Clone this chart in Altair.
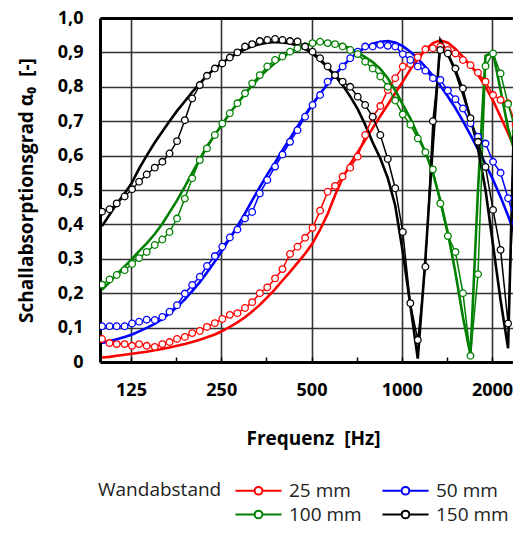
import altair as alt
import pandas as pd

# measured frequencies (1/12 octave), Hz
freq = [100, 106, 112, 119, 126, 133, 141, 150, 159, 168, 178, 189, 200, 212, 224, 238,
        252, 267, 283, 300, 317, 336, 356, 378, 400, 424, 449, 476, 504, 534, 566, 599,
        635, 673, 713, 755, 800, 848, 898, 951, 1008, 1068, 1131, 1199, 1270, 1345, 1425,
        1510, 1600, 1695, 1796, 1903, 2016, 2136, 2263, 2398]
freq_theory = freq + [2540]

series = ["25 mm", "50 mm", "100 mm", "150 mm"]
colors = ["#ff0000", "#0000ff", "#008000", "#000000"]

meas_25 = [0.067, 0.055, 0.052, 0.052, 0.047, 0.052, 0.047, 0.044, 0.052, 0.058, 0.067, 0.073,
           0.084, 0.090, 0.102, 0.113, 0.125, 0.137, 0.142, 0.157, 0.174, 0.200, 0.217, 0.243,
           0.270, 0.314, 0.335, 0.361, 0.390, 0.440, 0.495, 0.512, 0.539, 0.565, 0.597, 0.660,
           0.713, 0.744, 0.791, 0.825, 0.859, 0.866, 0.886, 0.909, 0.912, 0.917, 0.907, 0.897,
           0.878, 0.863, 0.841, 0.815, 0.776, 0.762, 0.752, 0.690]
meas_50 = [0.104, 0.104, 0.104, 0.104, 0.112, 0.117, 0.123, 0.122, 0.131, 0.146, 0.165, 0.199,
           0.224, 0.248, 0.279, 0.308, 0.335, 0.362, 0.385, 0.417, 0.436, 0.490, 0.529, 0.568,
           0.603, 0.640, 0.674, 0.713, 0.747, 0.776, 0.815, 0.834, 0.859, 0.883, 0.902, 0.917,
           0.917, 0.922, 0.919, 0.917, 0.895, 0.878, 0.859, 0.847, 0.825, 0.820, 0.789, 0.764,
           0.737, 0.694, 0.655, 0.635, 0.582, 0.550, 0.476, 0.405]
meas_100 = [0.225, 0.240, 0.253, 0.267, 0.285, 0.302, 0.320, 0.340, 0.356, 0.378, 0.417, 0.475,
            0.534, 0.587, 0.621, 0.660, 0.693, 0.723, 0.752, 0.781, 0.810, 0.834, 0.859, 0.878,
            0.888, 0.902, 0.912, 0.917, 0.927, 0.931, 0.927, 0.924, 0.917, 0.907, 0.895, 0.873,
            0.853, 0.830, 0.800, 0.760, 0.720, 0.690, 0.650, 0.610, 0.560, 0.461, 0.366, 0.320,
            0.200, 0.018, 0.255, 0.860, 0.897, 0.839, 0.750, 0.670]
meas_150 = [0.437, 0.444, 0.461, 0.481, 0.502, 0.524, 0.545, 0.565, 0.582, 0.606, 0.642, 0.703,
            0.766, 0.805, 0.832, 0.853, 0.868, 0.885, 0.900, 0.917, 0.924, 0.933, 0.936, 0.939,
            0.936, 0.933, 0.932, 0.917, 0.902, 0.883, 0.859, 0.834, 0.815, 0.800, 0.771, 0.747,
            0.713, 0.660, 0.590, 0.505, 0.378, 0.171, 0.064, 0.277, 0.700, 0.907, 0.897, 0.853,
            0.795, 0.709, 0.640, 0.567, 0.442, 0.326, 0.112, 0.650]

theo_25 = [0.013, 0.015, 0.018, 0.021, 0.024, 0.027, 0.030, 0.034, 0.038, 0.042, 0.047, 0.052,
           0.058, 0.065, 0.072, 0.080, 0.090, 0.102, 0.115, 0.130, 0.147, 0.166, 0.188, 0.212,
           0.237, 0.262, 0.288, 0.315, 0.345, 0.385, 0.430, 0.485, 0.535, 0.575, 0.610, 0.645,
           0.680, 0.715, 0.748, 0.782, 0.815, 0.850, 0.880, 0.907, 0.927, 0.935, 0.928, 0.910,
           0.887, 0.862, 0.835, 0.800, 0.760, 0.713, 0.665, 0.615, 0.560]
theo_50 = [0.055, 0.060, 0.066, 0.073, 0.080, 0.089, 0.099, 0.111, 0.125, 0.141, 0.160, 0.182,
           0.206, 0.232, 0.260, 0.292, 0.325, 0.360, 0.395, 0.432, 0.470, 0.508, 0.545, 0.580,
           0.615, 0.650, 0.685, 0.718, 0.750, 0.780, 0.808, 0.835, 0.860, 0.882, 0.900, 0.914,
           0.925, 0.931, 0.933, 0.929, 0.918, 0.902, 0.882, 0.858, 0.832, 0.803, 0.772, 0.738,
           0.700, 0.660, 0.618, 0.575, 0.530, 0.480, 0.425, 0.365, 0.310]
theo_100 = [0.210, 0.232, 0.255, 0.278, 0.300, 0.322, 0.345, 0.372, 0.402, 0.435, 0.470, 0.510,
            0.550, 0.590, 0.627, 0.660, 0.692, 0.723, 0.752, 0.779, 0.804, 0.828, 0.850, 0.869,
            0.886, 0.900, 0.911, 0.920, 0.926, 0.929, 0.929, 0.926, 0.920, 0.912, 0.900, 0.886,
            0.872, 0.852, 0.825, 0.790, 0.748, 0.708, 0.660, 0.610, 0.550, 0.470, 0.375, 0.260,
            0.130, 0.020, 0.500, 0.890, 0.900, 0.790, 0.680, 0.600, 0.520]
theo_150 = [0.395, 0.428, 0.460, 0.490, 0.522, 0.562, 0.600, 0.638, 0.670, 0.700, 0.730, 0.758,
            0.785, 0.810, 0.833, 0.853, 0.870, 0.885, 0.898, 0.909, 0.918, 0.924, 0.928, 0.930,
            0.929, 0.926, 0.920, 0.910, 0.896, 0.878, 0.856, 0.832, 0.805, 0.772, 0.735, 0.690,
            0.638, 0.592, 0.535, 0.455, 0.320, 0.165, 0.010, 0.300, 0.630, 0.935, 0.895, 0.845,
            0.780, 0.710, 0.620, 0.500, 0.340, 0.180, 0.040, 0.890, 0.550]

meas = [meas_25, meas_50, meas_100, meas_150]
theo = [theo_25, theo_50, theo_100, theo_150]

df_m = pd.DataFrame([
    {"f": f, "a": a, "s": s}
    for s, vals in zip(series, meas) for f, a in zip(freq, vals)
])
df_t = pd.DataFrame([
    {"f": f, "a": a, "s": s}
    for s, vals in zip(series, theo) for f, a in zip(freq_theory, vals)
])

octaves = [125, 250, 500, 1000, 2000]
half_octaves = [88.4, 125, 176.8, 250, 353.6, 500, 707.1, 1000, 1414.2, 2000]
y_ticks = [0, 0.1, 0.2, 0.3, 0.4, 0.5, 0.6, 0.7, 0.8, 0.9, 1.0]

FONT = "Open Sans"
x_scale = alt.Scale(type="log", domain=[98.5, 2350], nice=False)
y_scale = alt.Scale(domain=[0, 1], nice=False)
color_scale = alt.Scale(domain=series, range=colors)

legend_symbol = "M-6,0L-1,0M1,0L6,0M-1,0A1,1,0,1,1,1,0A1,1,0,1,1,-1,0Z"
legend = alt.Legend(
    orient="none", legendX=-2, legendY=463, columns=2, direction="horizontal",
    title="Wandabstand", titleOrient="left", titleAnchor="start", titleBaseline="top",
    titleFont=FONT, titleFontSize=19,
    titleFontWeight="normal", titleColor="#222222", titlePadding=13,
    labelFont=FONT, labelFontSize=19, labelColor="#222222",
    symbolType=legend_symbol, symbolSize=59, symbolStrokeWidth=2,
    symbolFillColor="white", symbolOffset=14, labelOffset=21,
    columnPadding=16, rowPadding=4, padding=0,
)

x_main = alt.Axis(
    values=octaves, format="d", title="Frequenz\u00a0\u00a0[Hz]", orient="bottom",
    grid=True, gridColor="#333333", gridWidth=1.6, ticks=False,
    labelFont=FONT, labelFontSize=18, labelFontWeight="bold", labelColor="black",
    labelPadding=19, labelFlush=False,
    titleFont=FONT, titleFontSize=19, titleFontWeight="bold", titleColor="black",
    titlePadding=30, titleX=213, domain=True, domainColor="black", domainWidth=3,
)
x_ticks = alt.Axis(
    values=half_octaves, orient="bottom", offset=-5, tickSize=5, tickWidth=1.5,
    tickColor="black", labels=False, domain=False, grid=False, title=None,
)
x_top = alt.Axis(
    orient="top", labels=False, ticks=False, grid=False, title=None,
    domain=True, domainColor="black", domainWidth=3,
)
y_axis = alt.Axis(
    values=y_ticks,
    labelExpr="datum.value == 0 ? '0' : replace(format(datum.value, '.1f'), '.', ',')",
    title="Schallabsorptionsgrad α₀\u00a0\u00a0[-]",
    grid=True, gridColor="#333333", gridWidth=1.6, ticks=False,
    labelFont=FONT, labelFontSize=18, labelFontWeight="bold", labelColor="black",
    labelPadding=17,
    titleFont=FONT, titleFontSize=19, titleFontWeight="bold", titleColor="black",
    titlePadding=21, domain=True, domainColor="black", domainWidth=3,
)

theory = alt.Chart(df_t).mark_line(strokeWidth=2.6, clip=True).encode(
    x=alt.X("f:Q", scale=x_scale, axis=x_main),
    y=alt.Y("a:Q", scale=y_scale, axis=y_axis),
    color=alt.Color("s:N", scale=color_scale, sort=series, legend=legend),
)
meas_line = alt.Chart(df_m).mark_line(strokeWidth=1.5, clip=True).encode(
    x=alt.X("f:Q", scale=x_scale, axis=x_ticks),
    y=alt.Y("a:Q", scale=y_scale, axis=y_axis),
    color=alt.Color("s:N", scale=color_scale, sort=series, legend=None),
)
meas_pts = alt.Chart(df_m).mark_point(
    shape="circle", filled=False, fill="white", size=44, strokeWidth=1.3,
    opacity=1, clip=True
).encode(
    x=alt.X("f:Q", scale=x_scale, axis=x_top),
    y=alt.Y("a:Q", scale=y_scale, axis=y_axis),
    color=alt.Color("s:N", scale=color_scale, sort=series, legend=None),
)

chart = alt.layer(theory, meas_line, meas_pts).resolve_axis(x="independent").properties(
    width=413, height=344,
    padding={"left": 92, "top": 10, "right": 0, "bottom": 159},
    autosize=alt.AutoSizeParams(type="none"),
).configure_view(stroke=None).configure(background="white")

chart.save("out.html", embed_options={"renderer": "svg", "actions": False})
